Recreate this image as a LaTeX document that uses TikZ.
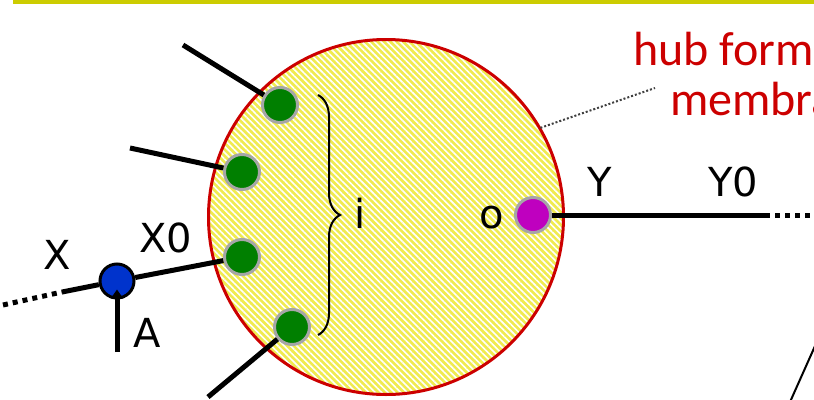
\documentclass[tikz,border=0pt]{standalone}
\usepackage{fontspec}
\setmainfont{DejaVu Sans}
\newfontfamily\calibri{Carlito}
\usepackage{tikz}
\usetikzlibrary{arrows.meta,positioning,calc,patterns.meta,decorations.pathreplacing}
\definecolor{Olive}{HTML}{CCCC00}
\definecolor{HubRed}{HTML}{CC0000}
\definecolor{HubYellow}{HTML}{F0EB50}
\definecolor{PortGreen}{HTML}{007F00}
\definecolor{PortPurple}{HTML}{BF00BF}
\definecolor{PlugBlue}{HTML}{0033CC}
\definecolor{Rim}{HTML}{A6A6A6}
\definecolor{Muted}{HTML}{404040}
\tikzset{
  hub/.style={circle,draw=HubRed,line width=3pt,minimum size=355pt,inner sep=0pt,
    preaction={fill=HubYellow},pattern={Lines[angle=-45,distance=4.5pt,line width=1.6pt]},
    pattern color=white},
  port/.style={circle,draw=Rim,line width=3pt,fill=PortGreen,minimum size=35pt,inner sep=0pt},
  outport/.style={port,fill=PortPurple},
  plug/.style={circle,draw=black,line width=3pt,fill=PlugBlue,minimum size=34pt,inner sep=0pt},
  wire/.style={line width=5pt,black},
  stub/.style={wire,dash pattern=on 5pt off 5pt},
  lbl/.style={font=\fontsize{40}{44}\selectfont,inner sep=0pt},
  note/.style={font=\calibri\fontsize{48}{50}\selectfont,text=HubRed,align=center,inner sep=0pt},
  pointer/.style={Muted,line width=2pt,dash pattern=on 2pt off 2pt}
}

\begin{document}
\begin{tikzpicture}[x=1pt,y=-1pt]
  \useasboundingbox (0,0) rectangle (814,399);
  \clip (0,0) rectangle (814,399);
  % top rule
  \coordinate (bar1) at (13,1.8);
  \coordinate (bar2) at (814,1.8);
  \draw[Olive,line width=3.8pt] (bar1) -- (bar2);
  % the hub and its ports
  \node[hub] (hub) at (386,217) {};
  \node[port] (i1) at (280,105) {};
  \node[port] (i2) at (242,172) {};
  \node[port] (i3) at (242,257) {};
  \node[port] (i4) at (292,327) {};
  \node[outport] (o) at (533,215) {};
  \node[plug] (x) at (117,281) {};
  % loose ends
  \coordinate (w1) at (183,45);
  \coordinate (w2) at (130,148);
  \coordinate (w4) at (208,397);
  \coordinate (xs) at (62,292);
  \coordinate (xe) at (3,305);
  \coordinate (a) at (117,352);
  \coordinate (ys) at (765,215);
  \coordinate (ye) at (814,215);
  \coordinate (hp) at (655,88);
  \coordinate (t1) at (790,402);
  \coordinate (t2) at (815,346);
  \draw[wire] (w1) -- (i1);
  \draw[wire] (w2) -- (i2);
  \draw[wire] (x) -- (i3);
  \draw[wire] (w4) -- (i4);
  \draw[wire] (xs) -- (x);
  \draw[stub] (xe) -- (xs);
  \draw[wire,-{Triangle[length=9pt,width=12pt]},shorten >=-10pt] (a) -- (x);
  \draw[wire] (o) -- (ys);
  \draw[stub] (ys) -- (ye);
  \draw[pointer] (hub.30) -- (hp);
  \draw[line width=2pt] (t1) -- (t2);
  % brace over the inputs
  \coordinate (br1) at (318,95);
  \coordinate (br2) at (318,335);
  \draw[decorate,decoration={brace,amplitude=22pt},line width=2pt] (br1) -- (br2);
  % labels
  \node[lbl] (ilbl) at (360,213) {i};
  \node[lbl] (olbl) at (492,218) {o};
  \node[lbl] (xlbl) at (57,255) {X};
  \node[lbl] (x0lbl) at (166,238) {X0};
  \node[lbl] (albl) at (147,333) {A};
  \node[lbl] (ylbl) at (600,182) {Y};
  \node[lbl] (y0lbl) at (733,182) {Y0};
  \node[note,anchor=north] (hubnote) at (777,32) {hub formed by\\membrane};
\end{tikzpicture}
\end{document}
